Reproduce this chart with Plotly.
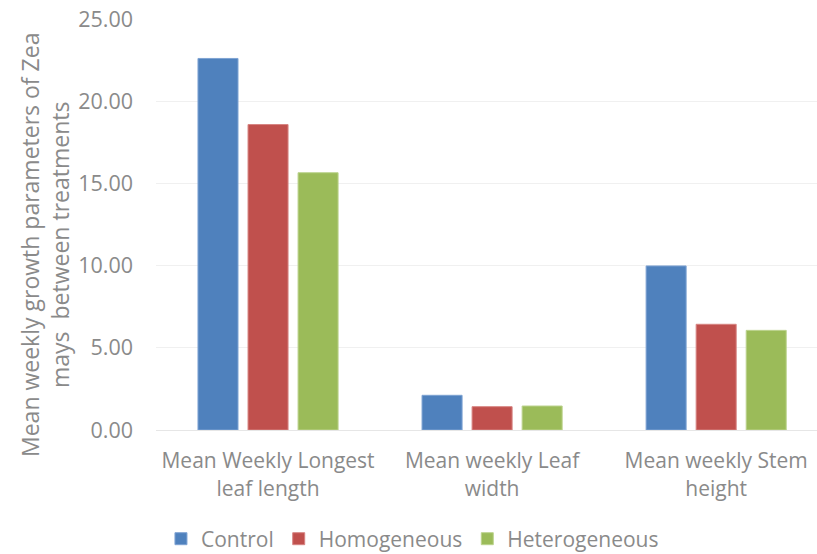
import plotly.graph_objects as go

categories = ["Mean Weekly Longest<br>leaf length", "Mean weekly Leaf<br>width", "Mean weekly Stem<br>height"]
control = [22.60, 2.11, 9.98]
homogeneous = [18.58, 1.42, 6.43]
heterogeneous = [15.65, 1.46, 6.06]
y_ticks = [0, 5, 10, 15, 20, 25]

series = [
    ("Control", control, "#4f81bd", "#7fa3d3"),
    ("Homogeneous", homogeneous, "#c0504d", "#d78583"),
    ("Heterogeneous", heterogeneous, "#9bbb59", "#bcd38e"),
]

fig = go.Figure()
for name, vals, color, edge in series:
    fig.add_trace(go.Bar(
        x=categories, y=vals, name=name,
        marker=dict(color=color, line=dict(color=edge, width=1)),
    ))

font_family = "Open Sans, Liberation Sans, sans-serif"
grey = "#8a8a8a"
fs = 21

fig.update_layout(
    width=817, height=554,
    margin=dict(l=156, r=0, t=19, b=124, autoexpand=False),
    paper_bgcolor="white", plot_bgcolor="white",
    barmode="group", bargap=0.33, bargroupgap=0.2,
    font=dict(family=font_family, size=fs, color=grey),
    showlegend=True,
    legend=dict(
        orientation="h", x=0.388, xanchor="center",
        yref="container", y=0.027, yanchor="middle",
        font=dict(size=fs, color=grey), itemwidth=30, tracegroupgap=0,
    ),
    xaxis=dict(
        range=[-0.5, 2.45], showgrid=False, zeroline=False,
        showline=True, linecolor="#e6e6e6", linewidth=1,
        ticks="", tickfont=dict(size=fs, color=grey), ticklabelstandoff=12,
        automargin=False,
    ),
    yaxis=dict(
        range=[0, 25], tickvals=y_ticks, tickformat=".2f",
        showgrid=True, gridcolor="#f0f0f0", gridwidth=1,
        zeroline=False, showline=False, ticks="",
        tickfont=dict(size=21.5, color=grey), ticklabelstandoff=22,
        automargin=False,
    ),
    annotations=[dict(
        text="Mean weekly growth parameters of Zea<br>mays  between treatments",
        x=-0.168, y=0.45, xref="paper", yref="paper",
        xanchor="center", yanchor="middle", textangle=-90, showarrow=False,
        font=dict(size=23, color=grey, family=font_family),
    )],
)

fig.write_html("out.html")
